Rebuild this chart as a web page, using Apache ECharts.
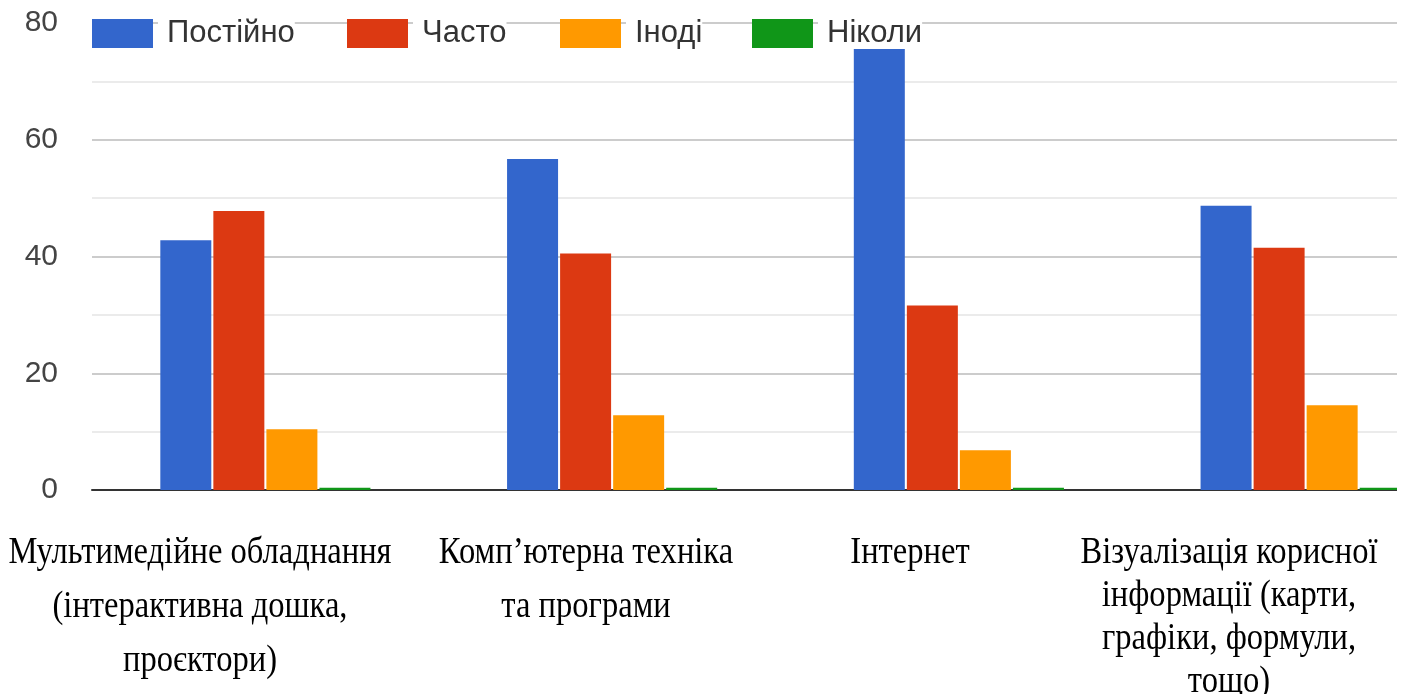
<!DOCTYPE html>
<html>
<head>
<meta charset="utf-8">
<script src="https://cdn.jsdelivr.net/npm/echarts@6/dist/echarts.min.js"></script>
<style>
html,body{margin:0;padding:0;background:#fff;}
#chart{width:1405px;height:694px;}
</style>
</head>
<body>
<div id="chart"></div>
<script>
var categories = ['Мультимедійне обладнання', 'Комп’ютерна техніка та програми', 'Інтернет', 'Візуалізація корисної інформації'];
var seriesNames = ['Постійно', 'Часто', 'Іноді', 'Ніколи'];
var postiyno = [42.8, 56.7, 75.6, 48.7];
var chasto = [47.8, 40.5, 31.6, 41.5];
var inodi = [10.4, 12.8, 6.8, 14.5];
var nikoly = [0.4, 0.4, 0.4, 0.4];
var yTicks = [0, 20, 40, 60, 80];
// category captions as typed in the source document (line-broken)
var captionLines = [
  ['Мультимедійне обладнання', '(інтерактивна дошка,', 'проєктори)'],
  ['Комп’ютерна техніка', 'та програми'],
  ['Інтернет'],
  ['Візуалізація корисної', 'інформації (карти,', 'графіки, формули,', 'тощо)']
];

var colors = ['#3366cc', '#dc3912', '#ff9900', '#109618'];
var values = [postiyno, chasto, inodi, nikoly];

var chart = echarts.init(document.getElementById('chart'), null, {renderer: 'canvas'});

var captionX = [200, 586, 910, 1229];
var captionLineH = [54, 54, 54, 43];
var graphics = [];
captionLines.forEach(function (lines, ci) {
  lines.forEach(function (t, li) {
    graphics.push({
      type: 'text',
      x: captionX[ci],
      y: 553 + li * captionLineH[ci],
      scaleX: 0.88,
      style: {
        text: t,
        fill: '#000',
        font: '37px "Liberation Serif", "Times New Roman", serif',
        textAlign: 'center',
        textVerticalAlign: 'middle'
      },
      z: 10
    });
  });
});
graphics.push({
  type: 'rect',
  shape: {x: 1397, y: 0, width: 8, height: 500},
  style: {fill: '#fff'},
  z: 5
});

var legendLeft = [92, 347, 560, 752];
var legends = seriesNames.map(function (n, i) {
  return {
    data: [n],
    left: legendLeft[i],
    top: 18,
    itemWidth: 61,
    itemHeight: 29,
    itemGap: 0,
    padding: 0,
    icon: 'rect',
    textStyle: {
      fontFamily: '"Liberation Sans", Arial, sans-serif',
      fontSize: 31,
      color: '#333',
      padding: [0, 0, 0, 9],
      backgroundColor: '#fff'
    },
    z: 6
  };
});

var series = seriesNames.map(function (n, i) {
  return {
    name: n,
    type: 'bar',
    data: values[i],
    barWidth: 51,
    barGap: '4%',
    itemStyle: {color: colors[i]},
    emphasis: {disabled: true}
  };
});

chart.setOption({
  animation: false,
  color: colors,
  legend: legends,
  grid: {left: 92, width: 1387, top: 23, bottom: 204, containLabel: false, outerBoundsMode: 'none'},
  xAxis: {
    type: 'category',
    data: categories,
    axisLine: {show: true, lineStyle: {color: '#333', width: 2}},
    axisTick: {show: false},
    axisLabel: {show: false},
    splitLine: {show: false}
  },
  yAxis: {
    type: 'value',
    min: yTicks[0],
    max: yTicks[yTicks.length - 1],
    interval: yTicks[1] - yTicks[0],
    axisLine: {show: false},
    axisTick: {show: false},
    axisLabel: {
      color: '#444',
      fontSize: 30,
      fontFamily: '"Liberation Sans", Arial, sans-serif',
      margin: 34
    },
    splitLine: {lineStyle: {color: '#cccccc', width: 2}},
    minorTick: {show: false, splitNumber: 2},
    minorSplitLine: {show: true, lineStyle: {color: '#ebebeb', width: 2}}
  },
  graphic: graphics,
  series: series
});
</script>
</body>
</html>
